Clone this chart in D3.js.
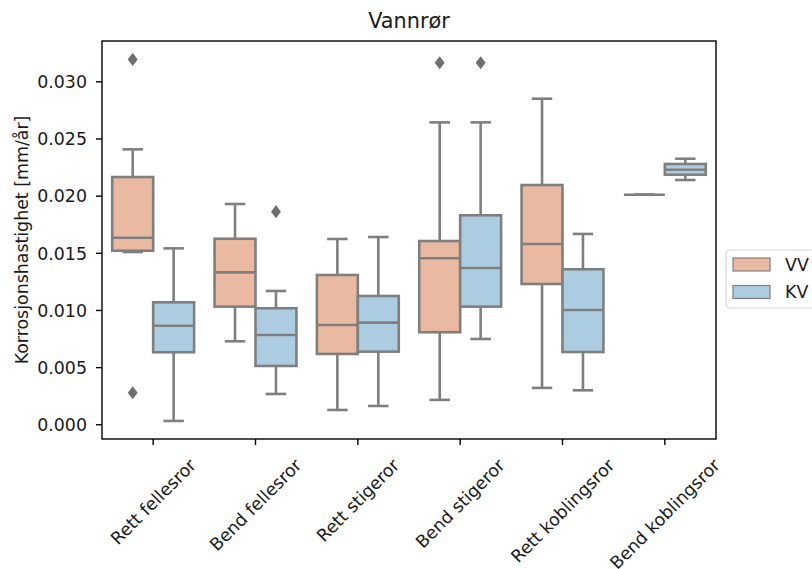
<!DOCTYPE html>
<html lang="no">
<head>
<meta charset="UTF-8">
<title>Vannrør</title>
<script src="https://d3js.org/d3.v7.min.js"></script>
<style>
  body { margin: 0; background: #fff; }
  text { font-family: "DejaVu Sans", sans-serif; fill: #1a1a1a; }
</style>
</head>
<body>
<div id="chart"></div>
<script>
// categories and hue groups
var categories = ["Rett fellesror", "Bend fellesror", "Rett stigeror", "Bend stigeror", "Rett koblingsror", "Bend koblingsror"];
var hues = ["VV", "KV"];

// box stats, one value per category
var vvLow  = [0.01507, 0.00726, 0.00125, 0.00213, 0.00318, 0.02008];
var vvQ1   = [0.01518, 0.01029, 0.00615, 0.00805, 0.01227, 0.02008];
var vvMed  = [0.01632, 0.01329, 0.00869, 0.01452, 0.01577, 0.02008];
var vvQ3   = [0.02163, 0.01623, 0.01306, 0.01603, 0.02093, 0.02008];
var vvHigh = [0.02405, 0.01927, 0.01621, 0.02641, 0.02848, 0.02008];

var kvLow  = [0.00029, 0.00265, 0.00160, 0.00746, 0.00297, 0.02137];
var kvQ1   = [0.00630, 0.00510, 0.00635, 0.01029, 0.00632, 0.02183];
var kvMed  = [0.00862, 0.00781, 0.00889, 0.01367, 0.01000, 0.02227];
var kvQ3   = [0.01067, 0.01015, 0.01122, 0.01828, 0.01356, 0.02277];
var kvHigh = [0.01539, 0.01166, 0.01638, 0.02641, 0.01665, 0.02323];

// outliers: [category, hue, value]
var outliers = [
  ["Rett fellesror", "VV", 0.03192],
  ["Rett fellesror", "VV", 0.00276],
  ["Bend fellesror", "KV", 0.01860],
  ["Bend stigeror", "VV", 0.03163],
  ["Bend stigeror", "KV", 0.03163]
];

var yTicks = [0, 0.005, 0.010, 0.015, 0.020, 0.025, 0.030];

var colors = { VV: "#eab9a2", KV: "#accde1" };
var lineColor = "#7f7f7f";

var W = 812, H = 569;
var mLeft = 102, mRight = 716, mTop = 41, mBottom = 439;

var svg = d3.select("#chart").append("svg")
    .attr("width", W)
    .attr("height", H);

var x = d3.scaleBand().domain(categories).range([mLeft, mRight]);
var xHue = d3.scaleBand().domain(hues).range([0.1 * x.bandwidth(), 0.9 * x.bandwidth()]);
var y = d3.scaleLinear().domain([-0.00129, 0.03353]).range([mBottom, mTop]);

// build a table for the boxes
var boxes = [];
categories.forEach(function (c, i) {
    boxes.push({ cat: c, hue: "VV", low: vvLow[i], q1: vvQ1[i], med: vvMed[i], q3: vvQ3[i], high: vvHigh[i] });
    boxes.push({ cat: c, hue: "KV", low: kvLow[i], q1: kvQ1[i], med: kvMed[i], q3: kvQ3[i], high: kvHigh[i] });
});

var bw = xHue.bandwidth();

var g = svg.append("g");
var box = g.selectAll("g.box")
    .data(boxes)
    .enter()
    .append("g")
        .attr("class", "box")
        .attr("transform", function (d) { return "translate(" + (x(d.cat) + xHue(d.hue)) + ",0)"; });

// whiskers
box.append("line")
    .attr("x1", bw / 2).attr("x2", bw / 2)
    .attr("y1", function (d) { return y(d.high); })
    .attr("y2", function (d) { return y(d.q3); });
box.append("line")
    .attr("x1", bw / 2).attr("x2", bw / 2)
    .attr("y1", function (d) { return y(d.q1); })
    .attr("y2", function (d) { return y(d.low); });
// caps
box.append("line")
    .attr("x1", bw / 4).attr("x2", bw * 3 / 4)
    .attr("y1", function (d) { return y(d.high); })
    .attr("y2", function (d) { return y(d.high); });
box.append("line")
    .attr("x1", bw / 4).attr("x2", bw * 3 / 4)
    .attr("y1", function (d) { return y(d.low); })
    .attr("y2", function (d) { return y(d.low); });
// box
box.append("rect")
    .attr("x", 0)
    .attr("width", bw)
    .attr("y", function (d) { return y(d.q3); })
    .attr("height", function (d) { return y(d.q1) - y(d.q3); })
    .style("fill", function (d) { return colors[d.hue]; })
    .style("stroke", lineColor)
    .style("stroke-width", 2.6);
// median
box.append("line")
    .attr("x1", 0).attr("x2", bw)
    .attr("y1", function (d) { return y(d.med); })
    .attr("y2", function (d) { return y(d.med); });

box.selectAll("line")
    .style("stroke", lineColor)
    .style("stroke-width", 2.6);

// outliers
g.selectAll("path.flier")
    .data(outliers)
    .enter()
    .append("path")
        .attr("class", "flier")
        .attr("d", d3.symbol().type(d3.symbolDiamond).size(50))
        .attr("transform", function (d) {
            return "translate(" + (x(d[0]) + xHue(d[1]) + bw / 2) + "," + y(d[2]) + ") scale(1.3,1)";
        })
        .style("fill", "#6e6e6e");

// axes
var yAxis = svg.append("g")
    .attr("transform", "translate(" + mLeft + ",0)")
    .call(d3.axisLeft(y).tickValues(yTicks).tickFormat(d3.format(".3f")).tickSize(6).tickPadding(9));
var xAxis = svg.append("g")
    .attr("transform", "translate(0," + mBottom + ")")
    .call(d3.axisBottom(x).tickSize(6).tickFormat(""));

[xAxis, yAxis].forEach(function (a) {
    a.select(".domain").remove();
    a.selectAll(".tick line").style("stroke", "#000").style("stroke-width", 1.4);
});
yAxis.selectAll(".tick text")
    .style("font-size", "17.4px")
    .style("font-family", "DejaVu Sans, sans-serif")
    .style("fill", "#1a1a1a")
    .attr("dy", "0.36em");

// frame
svg.append("rect")
    .attr("x", mLeft).attr("y", mTop)
    .attr("width", mRight - mLeft).attr("height", mBottom - mTop)
    .style("fill", "none")
    .style("stroke", "#000")
    .style("stroke-width", 1.4);

// x tick labels, rotated 45 degrees, centred on the tick
var labelTop = mBottom + 17;
svg.selectAll("text.xlab")
    .data(categories)
    .enter()
    .append("text")
        .attr("class", "xlab")
        .style("font-size", "17.4px")
        .attr("text-anchor", "middle")
        .attr("dy", "0.35em")
        .text(function (d) { return d; })
        .attr("transform", function (d) {
            var L = this.getComputedTextLength();
            var h = 17.4 * 1.0;
            var cy = labelTop + (L + h) / (2 * Math.SQRT2);
            return "translate(" + (x(d) + x.bandwidth() / 2) + "," + cy + ") rotate(-45)";
        });

// title
svg.append("text")
    .attr("x", (mLeft + mRight) / 2)
    .attr("y", 28)
    .attr("text-anchor", "middle")
    .style("font-size", "20.8px")
    .text("Vannrør");

// y label
svg.append("text")
    .attr("transform", "translate(28," + ((mTop + mBottom) / 2) + ") rotate(-90)")
    .attr("text-anchor", "middle")
    .style("font-size", "17.4px")
    .text("Korrosjonshastighet [mm/år]");

// legend
var leg = svg.append("g").attr("transform", "translate(726,250)");
leg.append("rect")
    .attr("x", 0).attr("y", 0)
    .attr("width", 110).attr("height", 58)
    .attr("rx", 4)
    .style("fill", "#fff")
    .style("stroke", "#d6d6d6")
    .style("stroke-width", 1.2);
var item = leg.selectAll("g.item")
    .data(hues)
    .enter()
    .append("g")
        .attr("class", "item")
        .attr("transform", function (d, i) { return "translate(7," + (8 + i * 27.5) + ")"; });
item.append("rect")
    .attr("width", 37).attr("height", 13)
    .style("fill", function (d) { return colors[d]; })
    .style("stroke", lineColor)
    .style("stroke-width", 1.2);
item.append("text")
    .attr("x", 52).attr("y", 6.5)
    .attr("dy", "0.36em")
    .style("font-size", "17.4px")
    .text(function (d) { return d; });
</script>
</body>
</html>
